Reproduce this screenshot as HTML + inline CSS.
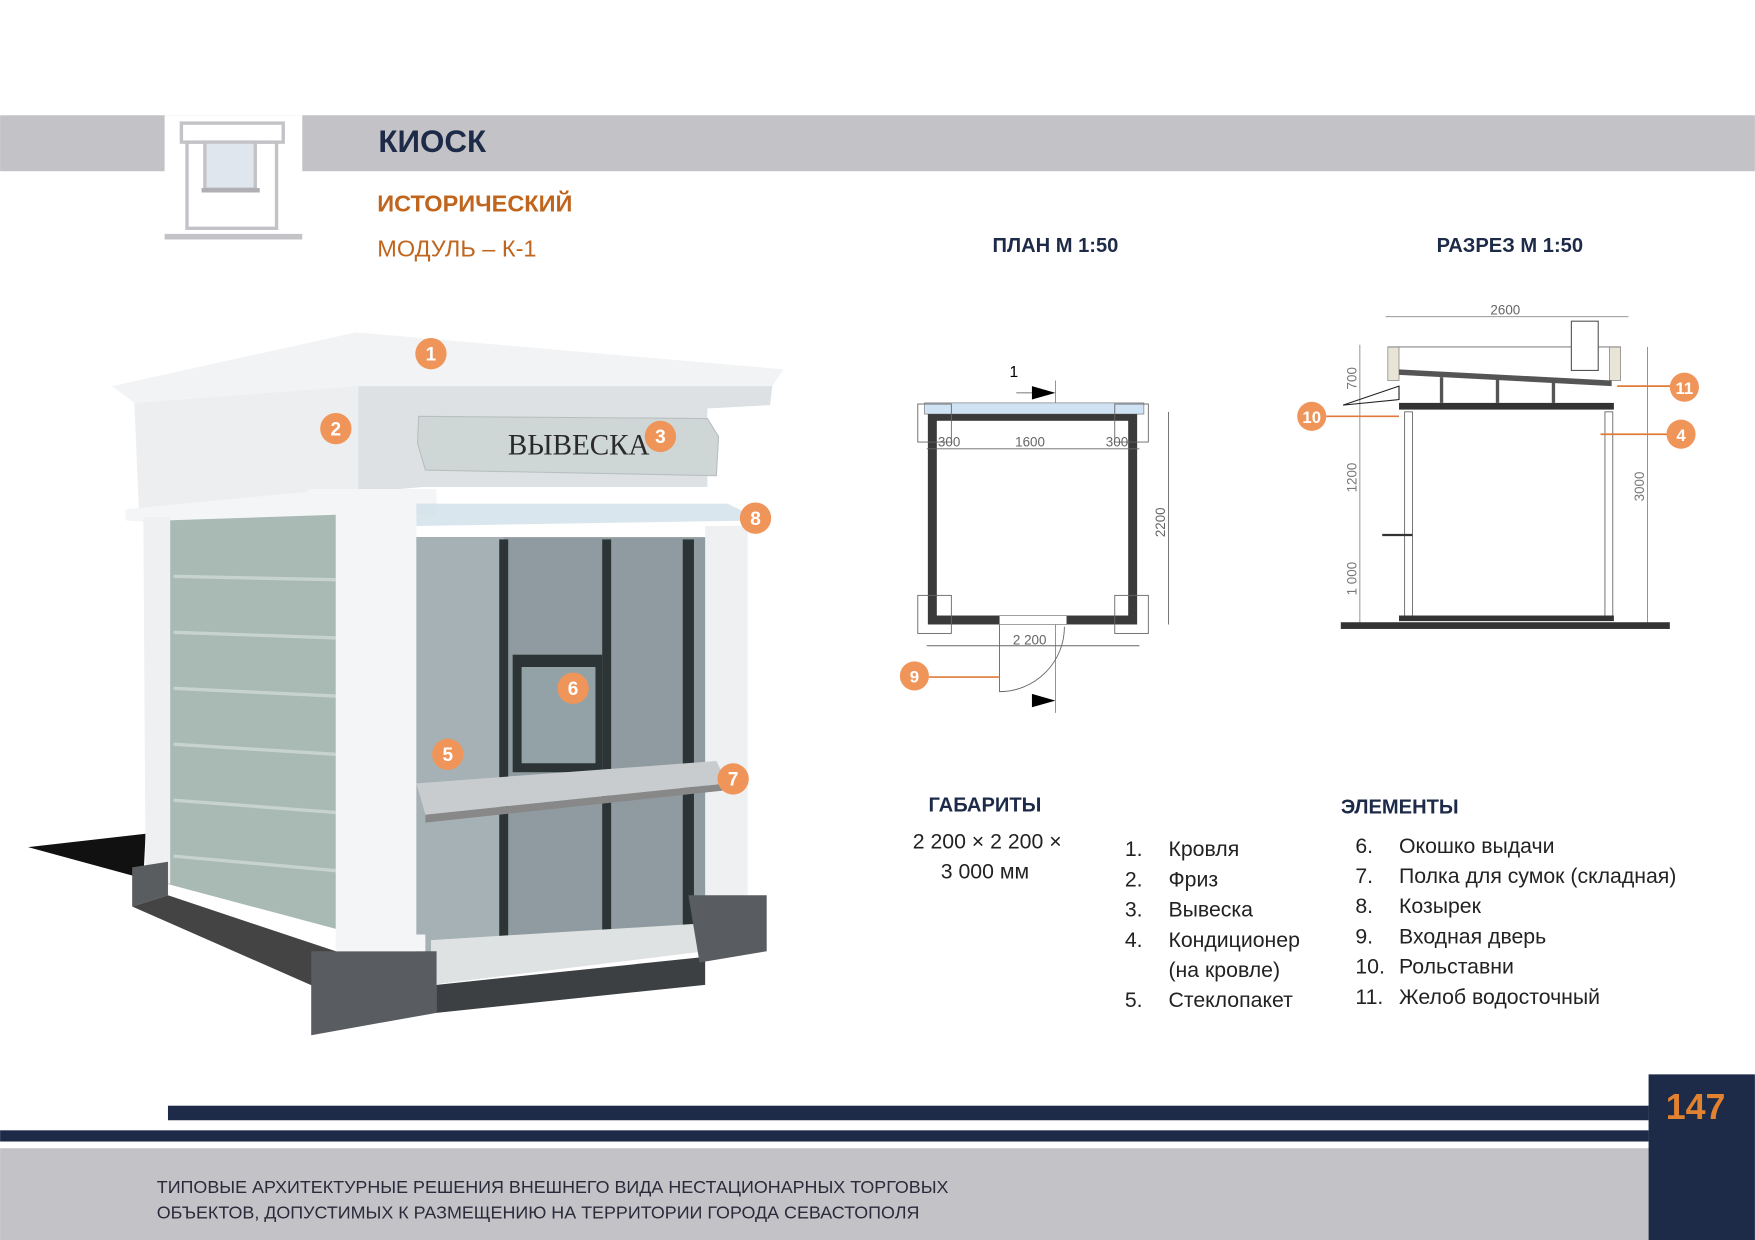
<!DOCTYPE html>
<html><head><meta charset="utf-8"><style>
html,body{margin:0;padding:0;background:#fff;width:1755px;height:1240px;overflow:hidden}
svg{display:block}
text{font-family:"Liberation Sans",sans-serif}
text.serif{font-family:"Liberation Serif",serif}
</style></head><body>
<svg width="1755" height="1240" viewBox="0 0 1568 1108" xmlns="http://www.w3.org/2000/svg">
<rect width="1568" height="1108" fill="#fff"/>
<rect x="0" y="103" width="1568" height="50" fill="#c3c3c7"/>
<rect x="147" y="103" width="123" height="108" fill="#fff"/>
<g stroke="#c3c3c7" fill="none" stroke-width="3">
<rect x="162" y="110" width="91" height="17"/>
<rect x="167" y="127" width="80" height="77"/>
<rect x="183" y="127" width="45" height="42" fill="#dfe6ee"/>
<line x1="180" y1="170" x2="232" y2="170" stroke-width="4" stroke="#b0b0b4"/>
</g>
<rect x="147" y="209" width="123" height="5" fill="#c3c3c7"/>
<text x="338" y="136" font-size="28" font-weight="bold" fill="#1d2a48">КИОСК</text>
<text x="337" y="189" font-size="21" font-weight="bold" fill="#c0651e">ИСТОРИЧЕСКИЙ</text>
<text x="337" y="229" font-size="21" fill="#c0651e">МОДУЛЬ – К-1</text>
<text x="943" y="225" font-size="18" font-weight="bold" fill="#1d2a48" text-anchor="middle">ПЛАН М 1:50</text>
<text x="1349" y="225" font-size="18" font-weight="bold" fill="#1d2a48" text-anchor="middle">РАЗРЕЗ М 1:50</text>

<!-- kiosk 3D -->
<polygon points="25,757 130,745 128,785" fill="#111"/>
<polygon points="100,345 318,297 700,330 690,345 320,345 120,360" fill="#f2f3f4"/>
<polygon points="120,360 320,345 320,440 124,455" fill="#eceeef"/>
<polygon points="320,345 690,345 688,362 632,365 632,435 380,435 320,440" fill="#dde1e3"/>
<polygon points="374,372 632,374 642,390 640,425 380,420 373,396" fill="#cfd6d6" stroke="#b7bfc0"/>
<text x="517" y="406" class="serif" font-size="26" fill="#2a2a2a" text-anchor="middle">ВЫВЕСКА</text>
<polygon points="112,455 300,437 300,460 150,468 112,465" fill="#f4f5f6"/>
<polygon points="275,437 390,437 390,460 275,462" fill="#f4f5f6"/>
<polygon points="372,450 650,450 680,465 372,470" fill="#cfe0e8" opacity="0.8"/>
<polygon points="150,465 300,460 300,830 150,790" fill="#a9b9b3"/>
<g stroke="#c7d3ce" stroke-width="3">
<line x1="155" y1="515" x2="300" y2="518"/><line x1="155" y1="565" x2="300" y2="570"/>
<line x1="155" y1="615" x2="300" y2="622"/><line x1="155" y1="665" x2="300" y2="674"/>
<line x1="155" y1="715" x2="300" y2="726"/><line x1="155" y1="765" x2="300" y2="778"/>
</g>
<polygon points="128,462 152,462 152,790 130,780" fill="#eef0f1"/>
<polygon points="118,775 150,770 150,800 118,810" fill="#5a5d60"/>
<polygon points="118,810 150,800 300,850 300,890" fill="#444"/>
<polygon points="300,460 372,460 372,850 300,850" fill="#f4f5f6"/>
<polygon points="630,470 668,470 668,800 630,800" fill="#eef0f1"/>
<polygon points="372,480 630,480 630,845 372,880" fill="#8f9ba0"/>
<polygon points="372,480 450,480 450,870 372,880" fill="#a5b1b5"/>
<rect x="446" y="482" width="8" height="380" fill="#2c3436"/>
<rect x="538" y="482" width="8" height="370" fill="#2c3436"/>
<rect x="610" y="482" width="10" height="350" fill="#2c3436"/>
<rect x="458" y="585" width="80" height="105" fill="#2c3436"/>
<rect x="466" y="596" width="66" height="86" fill="#93a2a7"/>
<polygon points="372,700 640,680 650,700 380,728" fill="#c9ccce"/>
<polygon points="380,728 650,700 650,706 380,735" fill="#888"/>
<polygon points="385,840 630,825 630,850 385,880" fill="#dfe2e3"/>
<polygon points="278,850 390,850 390,905 278,925" fill="#595c60"/>
<polygon points="300,835 380,835 380,850 300,850" fill="#f4f5f6"/>
<polygon points="390,880 630,855 630,880 390,905" fill="#3d4043"/>
<polygon points="615,800 685,800 685,850 625,860" fill="#595c60"/>
<g font-size="17" font-weight="bold" fill="#fff" text-anchor="middle">
<circle cx="385" cy="316" r="14" fill="#f0955a"/><text x="385" y="322">1</text>
<circle cx="300" cy="383" r="14" fill="#f0955a"/><text x="300" y="389">2</text>
<circle cx="590" cy="390" r="14" fill="#f0955a"/><text x="590" y="396">3</text>
<circle cx="675" cy="463" r="14" fill="#f0955a"/><text x="675" y="469">8</text>
<circle cx="512" cy="615" r="14" fill="#f0955a"/><text x="512" y="621">6</text>
<circle cx="400" cy="674" r="14" fill="#f0955a"/><text x="400" y="680">5</text>
<circle cx="655" cy="696" r="14" fill="#f0955a"/><text x="655" y="702">7</text>
</g>

<!-- plan -->
<g>
<line x1="943" y1="340" x2="943" y2="637" stroke="#888" stroke-width="0.8"/>
<text x="902" y="337" font-size="14">1</text>
<polygon points="922,345 943,351 922,357" fill="#000"/>
<polygon points="922,620 943,626 922,632" fill="#000"/>
<line x1="908" y1="351" x2="922" y2="351" stroke="#888"/>
<rect x="826" y="360" width="196" height="10" fill="#cfe3f5" stroke="#888" stroke-width="0.7"/>
<rect x="829" y="370" width="187" height="188" fill="#3a3a3a"/>
<rect x="837" y="376" width="171" height="174" fill="#fff"/>
<rect x="893" y="550" width="60" height="8" fill="#fff" stroke="#888" stroke-width="0.7"/>
<g fill="none" stroke="#666" stroke-width="0.8">
<rect x="820" y="361" width="30" height="34"/><rect x="996" y="361" width="30" height="34"/>
<rect x="820" y="532" width="30" height="34"/><rect x="996" y="532" width="30" height="34"/>
<path d="M893,558 V618 A58,58 0 0 0 951,560"/>
<line x1="828" y1="577" x2="1018" y2="577"/>
<line x1="828" y1="401" x2="1018" y2="401"/>
<line x1="1044" y1="368" x2="1044" y2="558"/>
</g>
<g font-size="12" fill="#666">
<text x="838" y="399">300</text><text x="907" y="399">1600</text><text x="988" y="399">300</text>
<text x="905" y="576">2 200</text>
<text x="1041" y="480" transform="rotate(-90 1041 480)">2200</text>
</g>
<line x1="830" y1="605" x2="893" y2="605" stroke="#e07a3a" stroke-width="1.5"/>
<circle cx="817" cy="604" r="13" fill="#f0955a"/><text x="817" y="610" font-size="15" font-weight="bold" fill="#fff" text-anchor="middle">9</text>
</g>

<!-- section -->
<g>
<line x1="1238" y1="283" x2="1455" y2="283" stroke="#888" stroke-width="0.8"/>
<text x="1345" y="281" font-size="12" fill="#666" text-anchor="middle">2600</text>
<line x1="1215" y1="308" x2="1215" y2="560" stroke="#888" stroke-width="0.8"/>
<line x1="1472" y1="310" x2="1472" y2="560" stroke="#888" stroke-width="0.8"/>
<g font-size="12" fill="#777">
<text x="1212" y="348" transform="rotate(-90 1212 348)">700</text>
<text x="1212" y="440" transform="rotate(-90 1212 440)">1200</text>
<text x="1212" y="532" transform="rotate(-90 1212 532)">1 000</text>
<text x="1469" y="448" transform="rotate(-90 1469 448)">3000</text>
</g>
<rect x="1240" y="310" width="10" height="30" fill="#e8e4d6" stroke="#888" stroke-width="0.7"/>
<rect x="1438" y="310" width="10" height="30" fill="#e8e4d6" stroke="#888" stroke-width="0.7"/>
<line x1="1240" y1="310" x2="1448" y2="310" stroke="#888"/>
<polygon points="1250,330 1440,340 1440,345 1250,335" fill="#555"/>
<g stroke="#555" stroke-width="3"><line x1="1288" y1="337" x2="1288" y2="360"/><line x1="1338" y1="339" x2="1338" y2="360"/><line x1="1388" y1="342" x2="1388" y2="360"/></g>
<rect x="1250" y="360" width="192" height="6" fill="#333"/>
<rect x="1404" y="287" width="24" height="44" fill="#fff" stroke="#555"/>
<rect x="1255" y="368" width="7" height="185" fill="#fff" stroke="#666" stroke-width="0.8"/>
<rect x="1434" y="368" width="7" height="185" fill="#fff" stroke="#666" stroke-width="0.8"/>
<rect x="1198" y="556" width="294" height="6" fill="#333"/>
<rect x="1250" y="550" width="192" height="5" fill="#333"/>
<polygon points="1200,362 1250,345 1250,357" fill="none" stroke="#222"/>
<line x1="1235" y1="478" x2="1262" y2="478" stroke="#333" stroke-width="2"/>
<line x1="1185" y1="372" x2="1250" y2="372" stroke="#e07a3a" stroke-width="1.5"/>
<line x1="1445" y1="345" x2="1495" y2="345" stroke="#e07a3a" stroke-width="1.5"/>
<line x1="1430" y1="388" x2="1490" y2="388" stroke="#e07a3a" stroke-width="1.5"/>
<g font-size="15" font-weight="bold" fill="#fff" text-anchor="middle">
<circle cx="1172" cy="372" r="13" fill="#f0955a"/><text x="1172" y="378">10</text>
<circle cx="1505" cy="346" r="13" fill="#f0955a"/><text x="1505" y="352">11</text>
<circle cx="1502" cy="388" r="13" fill="#f0955a"/><text x="1502" y="394">4</text>
</g>
</g>

<text x="880" y="725" font-size="18" font-weight="bold" fill="#1d2a48" text-anchor="middle">ГАБАРИТЫ</text>
<text x="882" y="758" font-size="19" fill="#222" text-anchor="middle">2 200 × 2 200 ×</text>
<text x="880" y="785" font-size="19" fill="#222" text-anchor="middle">3 000 мм</text>
<text x="1198" y="727" font-size="18" font-weight="bold" fill="#1d2a48">ЭЛЕМЕНТЫ</text>
<g font-size="19" fill="#222">
<text x="1005" y="765">1.</text><text x="1044" y="765">Кровля</text>
<text x="1005" y="792">2.</text><text x="1044" y="792">Фриз</text>
<text x="1005" y="819">3.</text><text x="1044" y="819">Вывеска</text>
<text x="1005" y="846">4.</text><text x="1044" y="846">Кондиционер</text>
<text x="1044" y="873">(на кровле)</text>
<text x="1005" y="900">5.</text><text x="1044" y="900">Стеклопакет</text>
<text x="1211" y="762">6.</text><text x="1250" y="762">Окошко выдачи</text>
<text x="1211" y="789">7.</text><text x="1250" y="789">Полка для сумок (складная)</text>
<text x="1211" y="816">8.</text><text x="1250" y="816">Козырек</text>
<text x="1211" y="843">9.</text><text x="1250" y="843">Входная дверь</text>
<text x="1211" y="870">10.</text><text x="1250" y="870">Рольставни</text>
<text x="1211" y="897">11.</text><text x="1250" y="897">Желоб водосточный</text>
</g>

<rect x="0" y="1026" width="1473" height="82" fill="#c3c3c7"/>
<rect x="150" y="988" width="1323" height="13" fill="#1d2a48"/>
<rect x="0" y="1010" width="1473" height="10" fill="#1d2a48"/>
<rect x="1473" y="960" width="95" height="148" fill="#1d2a48"/>
<text x="1515" y="1000" font-size="32" font-weight="bold" fill="#e0822f" text-anchor="middle">147</text>
<text x="140" y="1066" font-size="16" fill="#2a2a3a">ТИПОВЫЕ АРХИТЕКТУРНЫЕ РЕШЕНИЯ ВНЕШНЕГО ВИДА НЕСТАЦИОНАРНЫХ ТОРГОВЫХ</text>
<text x="140" y="1089" font-size="16" fill="#2a2a3a">ОБЪЕКТОВ, ДОПУСТИМЫХ К РАЗМЕЩЕНИЮ НА ТЕРРИТОРИИ ГОРОДА СЕВАСТОПОЛЯ</text>
</svg>
</body></html>
